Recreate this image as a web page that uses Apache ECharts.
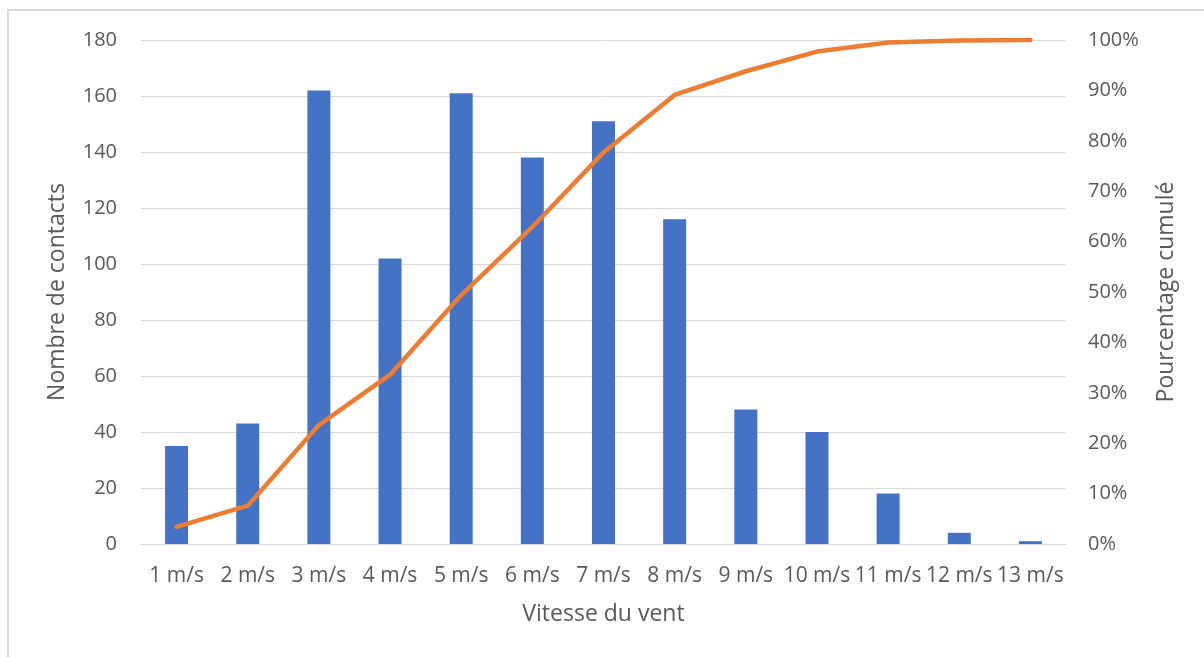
<!DOCTYPE html>
<html>
<head>
<meta charset="utf-8">
<script src="https://cdn.jsdelivr.net/npm/echarts@6/dist/echarts.min.js"></script>
<style>
html,body{margin:0;padding:0;background:#fff;}
#frame{position:absolute;left:7px;top:9px;width:1200px;height:652px;border-left:2px solid #d9d9d9;border-top:2px solid #d9d9d9;box-sizing:border-box;}
#chart{position:absolute;left:0;top:0;width:1204px;height:657px;}
</style>
</head>
<body>
<div id="frame"></div>
<div id="chart"></div>
<script>
const categories = ['1 m/s','2 m/s','3 m/s','4 m/s','5 m/s','6 m/s','7 m/s','8 m/s','9 m/s','10 m/s','11 m/s','12 m/s','13 m/s'];
const contacts = [35, 43, 162, 102, 161, 138, 151, 116, 48, 40, 18, 4, 1];
const cumulPercent = [3.4, 7.6, 23.6, 33.6, 49.4, 62.9, 77.7, 89.1, 93.8, 97.7, 99.5, 99.9, 100];

const txt = '#595959';
const font = 'Open Sans';
const chart = echarts.init(document.getElementById('chart'), null, {renderer:'canvas'});
chart.setOption({
  animation: false,
  backgroundColor: 'transparent',
  textStyle: {fontFamily: font},
  grid: {left: 141, right: 138, top: 40, bottom: 113, containLabel: false},
  xAxis: {
    type: 'category',
    data: categories,
    name: 'Vitesse du vent',
    nameLocation: 'middle',
    nameGap: 59,
    nameTextStyle: {color: txt, fontSize: 23, fontFamily: font},
    axisLine: {lineStyle: {color: '#d9d9d9', width: 1}},
    axisTick: {show: false},
    axisLabel: {color: txt, fontSize: 21, fontFamily: font, interval: 0, margin: 22}
  },
  yAxis: [{
    type: 'value',
    min: 0, max: 180, interval: 20,
    name: 'Nombre de contacts',
    nameLocation: 'middle',
    nameGap: 72,
    nameTextStyle: {color: txt, fontSize: 23, fontFamily: font},
    axisLine: {show: false},
    axisTick: {show: false},
    axisLabel: {color: txt, fontSize: 20, fontFamily: font, margin: 24},
    splitLine: {lineStyle: {color: '#d9d9d9', width: 1}}
  },{
    type: 'value',
    min: 0, max: 100, interval: 10,
    name: 'Pourcentage cumulé',
    nameLocation: 'middle',
    nameGap: 89,
    nameTextStyle: {color: txt, fontSize: 23, fontFamily: font},
    axisLine: {show: false},
    axisTick: {show: false},
    axisLabel: {color: txt, fontSize: 20, fontFamily: font, margin: 22, formatter: '{value}%', align: 'left'},
    splitLine: {show: false}
  }],
  series: [{
    type: 'bar',
    data: contacts,
    yAxisIndex: 0,
    barWidth: 23,
    itemStyle: {color: '#4472C4'}
  },{
    type: 'line',
    data: cumulPercent,
    yAxisIndex: 1,
    symbol: 'none',
    lineStyle: {color: '#ED7D31', width: 4.5, cap: 'round', join: 'round'},
    itemStyle: {color: '#ED7D31'}
  }]
});
</script>
</body>
</html>
